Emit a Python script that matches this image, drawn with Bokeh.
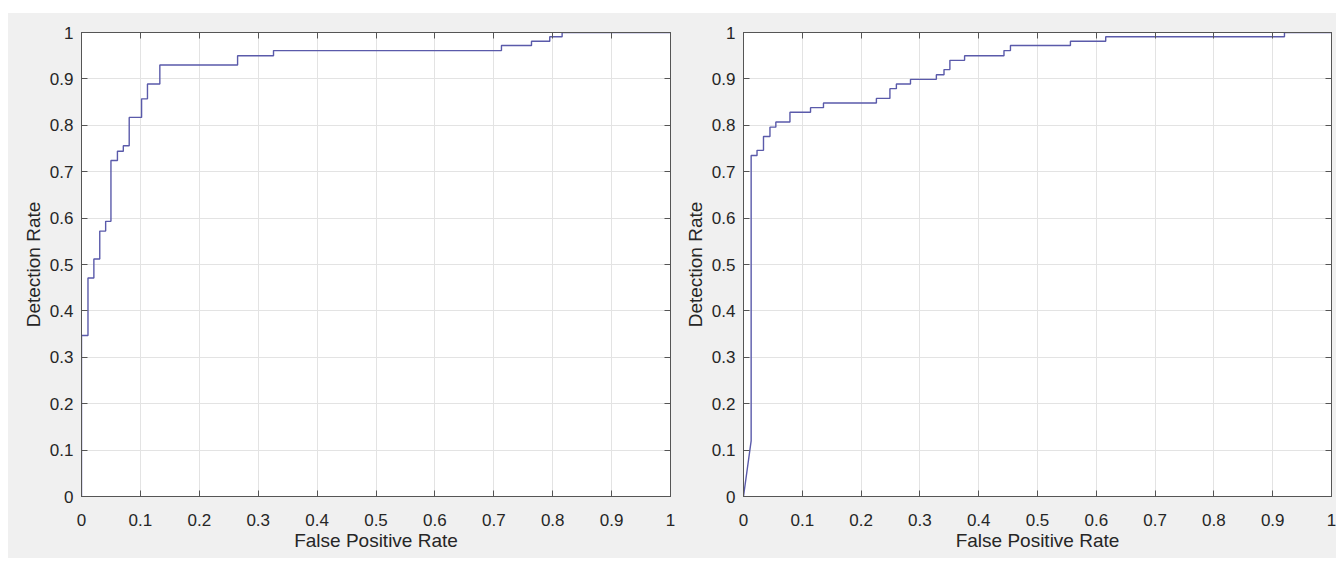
from bokeh.plotting import figure
from bokeh.layouts import row, column
from bokeh.models import Range1d, FixedTicker, LinearAxis, Spacer
from bokeh.embed import file_html
from bokeh.resources import INLINE

# ---------------- data ----------------
tick_values = [0, 0.1, 0.2, 0.3, 0.4, 0.5, 0.6, 0.7, 0.8, 0.9, 1]
tick_labels = ["0", "0.1", "0.2", "0.3", "0.4", "0.5", "0.6", "0.7", "0.8", "0.9", "1"]

x_label = "False Positive Rate"
y_label = "Detection Rate"

# Left ROC curve (staircase): FPR where each jump occurs, TPR after the jump
left_start_fpr = [0.0]
left_start_tpr = [0.0]
left_step_fpr = [0.0, 0.011, 0.021, 0.031, 0.041, 0.050, 0.061, 0.071, 0.081,
                 0.102, 0.112, 0.133, 0.265, 0.326, 0.713, 0.764, 0.795, 0.816]
left_step_tpr = [0.347, 0.471, 0.512, 0.572, 0.593, 0.724, 0.744, 0.756, 0.817,
                 0.857, 0.889, 0.930, 0.950, 0.961, 0.972, 0.981, 0.991, 1.0]

# Right ROC curve: an initial straight segment, then a staircase
right_start_fpr = [0.0, 0.013]
right_start_tpr = [0.0, 0.120]
right_step_fpr = [0.013, 0.023, 0.034, 0.045, 0.055, 0.079, 0.114, 0.136, 0.226,
                  0.249, 0.260, 0.284, 0.328, 0.341, 0.351, 0.376, 0.443, 0.454,
                  0.556, 0.616, 0.920]
right_step_tpr = [0.735, 0.746, 0.776, 0.796, 0.807, 0.828, 0.838, 0.848, 0.858,
                  0.879, 0.889, 0.899, 0.909, 0.920, 0.940, 0.950, 0.961, 0.972,
                  0.981, 0.991, 1.0]

# ---------------- styles ----------------
FONT = "Liberation Sans"
TEXT = "#262626"
AXIS = "#555555"
GRID = "#e3e3e3"
LINE = "#5a5aaa"
BG = "#f0f0f0"


def staircase(start_x, start_y, step_x, step_y, x_end=1.0):
    xs, ys = list(start_x), list(start_y)
    for sx, sy in zip(step_x, step_y):
        xs.append(sx)
        ys.append(ys[-1])
        xs.append(sx)
        ys.append(sy)
    xs.append(x_end)
    ys.append(ys[-1])
    return xs, ys


def make_plot(xs, ys, border_left, frame_w, border_right):
    p = figure(width=border_left + frame_w + border_right, height=545,
               frame_width=frame_w, frame_height=464,
               min_border_left=border_left, min_border_right=border_right,
               min_border_top=19, min_border_bottom=62,
               x_range=Range1d(0, 1), y_range=Range1d(0, 1),
               output_backend="svg", toolbar_location=None,
               x_axis_label=x_label, y_axis_label=y_label)
    p.background_fill_color = "white"
    p.border_fill_color = BG
    p.outline_line_color = AXIS
    p.outline_line_width = 1

    ticker = FixedTicker(ticks=tick_values)
    overrides = dict(zip(tick_values, tick_labels))
    blank = {t: "" for t in tick_values}

    for ax in p.xaxis + p.yaxis:
        ax.ticker = ticker
        ax.major_label_overrides = overrides
        ax.minor_tick_line_color = None
        ax.major_tick_in = 6
        ax.major_tick_out = 0
        ax.major_tick_line_color = AXIS
        ax.axis_line_color = AXIS
        ax.major_label_text_font = FONT
        ax.major_label_text_font_size = "17px"
        ax.major_label_text_color = TEXT
        ax.axis_label_text_font = FONT
        ax.axis_label_text_font_size = "19px"
        ax.axis_label_text_font_style = "normal"
        ax.axis_label_text_color = TEXT
    p.xaxis.major_label_standoff = 17
    p.xaxis.axis_label_standoff = 1
    p.yaxis.major_label_standoff = 8
    p.yaxis.axis_label_standoff = 3

    for side in ("above", "right"):
        ax = LinearAxis(ticker=ticker, major_label_overrides=blank,
                        minor_tick_line_color=None, major_tick_in=6,
                        major_tick_out=0, major_tick_line_color=AXIS,
                        axis_line_color=AXIS, major_label_text_font_size="1px",
                        major_label_standoff=0)
        p.add_layout(ax, side)

    for g in (p.xgrid, p.ygrid):
        g.ticker = ticker
        g.grid_line_color = GRID
        g.grid_line_width = 1

    p.line(xs, ys, line_color=LINE, line_width=1.4)
    return p


lx, ly = staircase(left_start_fpr, left_start_tpr, left_step_fpr, left_step_tpr)
rx, ry = staircase(right_start_fpr, right_start_tpr, right_step_fpr, right_step_tpr)

left = make_plot(lx, ly, 73, 589, 10)
right = make_plot(rx, ry, 63, 588, 5)

plots = row(left, right, styles={"background-color": BG})
layout = column(Spacer(width=1328, height=13),
                row(Spacer(width=8, height=545), plots))

open("out.html", "w").write(file_html(layout, INLINE))
